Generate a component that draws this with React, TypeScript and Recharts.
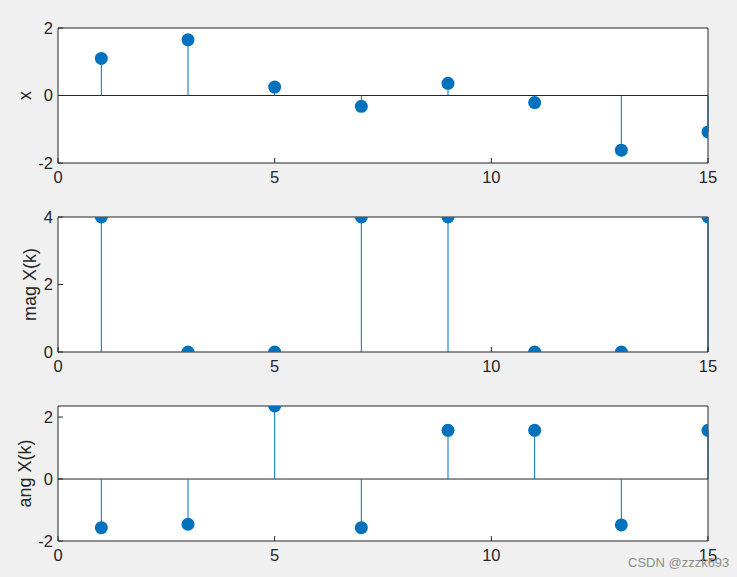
import {
  ComposedChart,
  Scatter,
  ErrorBar,
  XAxis,
  YAxis,
  ReferenceLine,
} from 'recharts'

const kValues = [1, 3, 5, 7, 9, 11, 13, 15]
const xSignal = [1.1, 1.65, 0.25, -0.32, 0.36, -0.21, -1.62, -1.08]
const magValues = [4, 0, 0, 4, 4, 0, 0, 4]
const angValues = [-1.5708, -1.46, 2.3562, -1.5708, 1.5708, 1.5708, -1.48, 1.5708]
const xTicks = [0, 5, 10, 15]

const BLUE = '#0072BD'
const INK = '#262626'
const FONT = '"Liberation Sans", Arial, Helvetica, sans-serif'

function toStems(values: number[]) {
  return kValues.map((k, i) => {
    const v = values[i]
    return { k, v, err: v > 0 ? [v, 0] : [0, -v] }
  })
}

function Dot(props: any) {
  const { cx, cy } = props
  if (cx == null || cy == null) return null
  return <circle cx={cx} cy={cy} r={6.5} fill={BLUE} />
}

interface PanelProps {
  top: number
  values: number[]
  domain: [number, number]
  yTicks: number[]
  label: string
  labelOffset: number
  baseline: boolean
}

function StemPanel({ top, values, domain, yTicks, label, labelOffset, baseline }: PanelProps) {
  const data = toStems(values)
  const tickStyle = { fill: INK, fontSize: 16.5, fontFamily: FONT }
  return (
    <div style={{ position: 'absolute', left: 0, top }}>
      <ComposedChart
        width={737}
        height={189}
        data={data}
        margin={{ top: 9, right: 28, bottom: 14, left: 18 }}
      >
        <rect x={58} y={10} width={650} height={135} fill="#fff" />
        <XAxis
          xAxisId="b"
          dataKey="k"
          type="number"
          domain={[0, 15]}
          ticks={xTicks}
          allowDataOverflow
          height={30}
          stroke={INK}
          tickSize={-5}
          tickMargin={13}
          tick={tickStyle}
        />
        <XAxis
          xAxisId="t"
          orientation="top"
          type="number"
          domain={[0, 15]}
          ticks={xTicks}
          allowDataOverflow
          height={1}
          stroke={INK}
          tickSize={-5}
          tick={false}
        />
        <YAxis
          yAxisId="l"
          type="number"
          domain={domain}
          ticks={yTicks}
          allowDataOverflow
          width={40}
          stroke={INK}
          tickSize={-5}
          tickMargin={10}
          tick={tickStyle}
          label={{
            value: label,
            angle: -90,
            position: 'insideLeft',
            offset: labelOffset,
            style: { textAnchor: 'middle', fill: INK, fontSize: 18, fontFamily: FONT },
          }}
        />
        <YAxis
          yAxisId="r"
          orientation="right"
          type="number"
          domain={domain}
          ticks={yTicks}
          allowDataOverflow
          width={1}
          stroke={INK}
          tickSize={-5}
          tick={false}
        />
        {baseline && (
          <ReferenceLine xAxisId="b" yAxisId="l" y={0} stroke={INK} strokeWidth={1} />
        )}
        <Scatter
          xAxisId="b"
          yAxisId="l"
          dataKey="v"
          fill={BLUE}
          shape={<Dot />}
          isAnimationActive={false}
        >
          <ErrorBar dataKey="err" direction="y" width={0} stroke={BLUE} strokeWidth={1} />
        </Scatter>
      </ComposedChart>
    </div>
  )
}

export default function App() {
  return (
    <div
      style={{
        position: 'absolute',
        left: 0,
        top: 0,
        width: 737,
        height: 577,
        background: '#f0f0f0',
        fontFamily: FONT,
        overflow: 'hidden',
      }}
    >
      <StemPanel top={18} values={xSignal} domain={[-2, 2]} yTicks={[-2, 0, 2]} label="x" labelOffset={7} baseline />
      <StemPanel top={207} values={magValues} domain={[0, 4]} yTicks={[0, 2, 4]} label="mag X(k)" labelOffset={12} baseline={false} />
      <StemPanel top={396} values={angValues} domain={[-2, 2.3562]} yTicks={[-2, 0, 2]} label="ang X(k)" labelOffset={7} baseline />
      <div
        style={{
          position: 'absolute',
          left: 628,
          top: 555,
          fontSize: 13,
          color: '#8c8c8c',
          fontFamily: FONT,
        }}
      >
        CSDN @zzzk693
      </div>
    </div>
  )
}
